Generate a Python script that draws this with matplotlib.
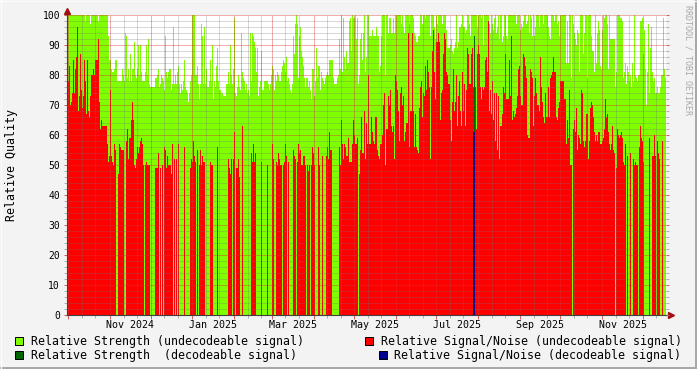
from datetime import datetime, timedelta
import numpy as np
import matplotlib
matplotlib.use("Agg")
import matplotlib.pyplot as plt
import matplotlib.dates as mdates
from matplotlib.patches import Rectangle
from matplotlib.lines import Line2D
from matplotlib.ticker import MultipleLocator, NullFormatter

# one value per consolidated step
start = datetime(2024, 9, 30)
step_hours = 17.8

strength_undec = [
    94, 100, 100, 100, 100, 100, 100, 100, 100, 100,
    100, 100, 100, 100, 100, 100, 100, 100, 98, 100,
    100, 100, 100, 97, 100, 100, 100, 100, 100, 100,
    100, 98, 100, 100, 100, 100, 100, 100, 100, 100,
    100, 93, 85, 85, 82, 81, 81, 82, 85, 85,
    78, 78, 78, 78, 78, 82, 80, 78, 94, 93,
    79, 82, 78, 87, 78, 82, 82, 91, 80, 79,
    82, 90, 80, 90, 81, 78, 78, 78, 81, 90,
    80, 92, 77, 76, 76, 76, 76, 76, 79, 79,
    80, 82, 76, 77, 80, 79, 78, 75, 93, 81,
    79, 81, 82, 82, 75, 77, 96, 77, 80, 77,
    81, 83, 77, 74, 77, 75, 78, 85, 76, 75,
    74, 71, 74, 78, 80, 100, 100, 100, 80, 80,
    83, 77, 72, 77, 97, 93, 77, 96, 77, 82,
    76, 76, 78, 85, 78, 90, 72, 78, 76, 83,
    89, 78, 75, 75, 74, 74, 73, 73, 73, 77,
    77, 81, 77, 90, 80, 77, 82, 99, 74, 73,
    76, 80, 76, 75, 94, 81, 79, 78, 75, 77,
    74, 75, 73, 94, 78, 94, 93, 91, 89, 81,
    89, 73, 76, 78, 88, 75, 75, 78, 78, 78,
    78, 77, 75, 77, 80, 83, 82, 75, 80, 78,
    81, 80, 78, 78, 81, 83, 85, 84, 81, 86,
    78, 79, 77, 75, 74, 77, 93, 87, 97, 100,
    97, 79, 93, 96, 88, 86, 83, 79, 76, 79,
    79, 76, 78, 75, 72, 82, 82, 73, 78, 89,
    79, 83, 83, 75, 81, 79, 78, 77, 79, 80,
    81, 80, 85, 85, 85, 85, 79, 77, 77, 77,
    79, 80, 92, 82, 100, 81, 99, 86, 82, 88,
    84, 84, 98, 99, 88, 100, 99, 99, 100, 92,
    99, 77, 80, 92, 94, 85, 94, 100, 81, 86,
    100, 100, 93, 93, 93, 95, 93, 93, 93, 96,
    93, 93, 81, 83, 93, 100, 100, 100, 80, 100,
    100, 94, 99, 99, 94, 94, 99, 94, 100, 100,
    100, 100, 100, 100, 97, 100, 96, 94, 100, 100,
    100, 100, 97, 100, 100, 100, 99, 94, 93, 91,
    91, 93, 93, 100, 100, 97, 100, 100, 99, 100,
    100, 100, 100, 93, 100, 100, 100, 96, 92, 100,
    97, 100, 100, 100, 100, 97, 100, 100, 100, 95,
    89, 89, 89, 90, 92, 88, 87, 89, 91, 100,
    89, 91, 96, 96, 97, 100, 96, 96, 94, 95,
    100, 100, 97, 93, 100, 100, 100, 100, 100, 100,
    96, 100, 100, 100, 99, 100, 90, 100, 100, 100,
    100, 100, 97, 94, 100, 97, 95, 99, 100, 94,
    96, 100, 92, 100, 100, 91, 93, 100, 100, 93,
    92, 100, 100, 100, 100, 100, 100, 100, 100, 97,
    100, 100, 100, 95, 97, 96, 98, 100, 100, 97,
    98, 100, 94, 100, 99, 93, 100, 93, 96, 100,
    100, 100, 96, 100, 100, 100, 97, 100, 100, 100,
    100, 96, 93, 92, 100, 100, 100, 98, 100, 100,
    97, 98, 93, 100, 100, 100, 100, 100, 100, 84,
    98, 84, 100, 100, 79, 100, 97, 94, 92, 90,
    95, 94, 81, 100, 100, 100, 87, 94, 100, 100,
    79, 100, 100, 100, 93, 88, 88, 81, 100, 84,
    94, 98, 95, 83, 82, 95, 100, 99, 100, 100,
    97, 82, 100, 92, 92, 92, 92, 92, 76, 81,
    100, 100, 100, 99, 99, 98, 79, 81, 84, 77,
    83, 81, 78, 80, 76, 84, 78, 100, 80, 79,
    78, 80, 80, 98, 98, 99, 87, 95, 82, 70,
    81, 97, 74, 89, 96, 81, 78, 79, 74, 74,
    76, 74, 74, 76, 80, 80, 99, 82, 79,
]

snr_undec = [
    78, 78, 83, 70, 71, 74, 85, 74, 82, 86,
    96, 68, 73, 87, 75, 69, 73, 85, 78, 67,
    85, 68, 66, 73, 80, 80, 82, 80, 85, 85,
    85, 92, 71, 62, 65, 63, 63, 63, 63, 63,
    57, 51, 53, 75, 53, 51, 50, 57, 55, 0,
    0, 47, 57, 56, 55, 55, 55, 0, 0, 58,
    62, 52, 59, 59, 65, 71, 65, 50, 49, 52,
    56, 54, 56, 58, 59, 57, 50, 0, 50, 51,
    50, 50, 50, 0, 0, 0, 0, 0, 49, 49,
    49, 54, 0, 49, 0, 50, 0, 56, 55, 49,
    53, 50, 50, 50, 47, 57, 0, 52, 0, 52,
    0, 57, 0, 0, 0, 0, 0, 56, 0, 0,
    0, 0, 0, 49, 52, 51, 58, 53, 51, 0,
    55, 0, 50, 55, 50, 53, 51, 51, 0, 0,
    0, 0, 0, 51, 50, 50, 0, 0, 0, 0,
    56, 0, 0, 0, 0, 0, 0, 0, 0, 0,
    0, 52, 49, 47, 52, 0, 52, 61, 0, 49,
    49, 52, 46, 0, 0, 63, 0, 0, 0, 0,
    0, 0, 0, 0, 54, 51, 57, 51, 54, 0,
    0, 0, 0, 0, 51, 0, 0, 0, 0, 0,
    50, 0, 0, 0, 0, 57, 52, 0, 0, 51,
    50, 54, 52, 50, 50, 0, 50, 51, 57, 53,
    0, 51, 0, 0, 0, 0, 55, 53, 52, 0,
    51, 57, 54, 55, 50, 50, 53, 53, 50, 0,
    50, 48, 50, 0, 50, 56, 54, 50, 0, 0,
    0, 56, 50, 0, 0, 53, 0, 0, 0, 53,
    56, 52, 61, 55, 55, 0, 0, 0, 0, 0,
    0, 0, 56, 50, 65, 57, 52, 57, 56, 53,
    53, 59, 51, 51, 51, 57, 65, 60, 57, 57,
    59, 0, 47, 55, 66, 54, 54, 68, 52, 64,
    57, 80, 57, 57, 66, 61, 58, 57, 66, 66,
    55, 53, 52, 57, 57, 60, 70, 74, 50, 62,
    62, 73, 70, 75, 63, 61, 63, 52, 80, 78,
    75, 68, 58, 74, 76, 70, 73, 58, 61, 64,
    64, 94, 56, 68, 68, 94, 68, 56, 67, 56,
    55, 54, 69, 76, 78, 66, 74, 73, 83, 75,
    85, 81, 76, 52, 76, 88, 95, 81, 72, 91,
    91, 94, 91, 65, 74, 75, 87, 94, 92, 81,
    80, 77, 77, 65, 58, 71, 82, 68, 71, 80,
    63, 73, 78, 68, 63, 81, 68, 77, 63, 75,
    89, 87, 77, 77, 87, 89, 76, 0, 76, 62,
    87, 90, 87, 76, 72, 76, 75, 76, 85, 86,
    81, 98, 68, 75, 67, 78, 65, 74, 58, 74,
    55, 73, 52, 63, 63, 67, 76, 74, 87, 72,
    72, 72, 85, 73, 93, 65, 68, 66, 67, 69,
    73, 82, 83, 73, 70, 70, 87, 86, 83, 79,
    60, 59, 59, 82, 81, 79, 63, 73, 79, 74,
    70, 70, 68, 86, 76, 71, 66, 64, 74, 66,
    66, 76, 66, 79, 80, 81, 86, 81, 81, 66,
    65, 69, 71, 78, 78, 78, 78, 72, 72, 57,
    65, 59, 75, 50, 50, 0, 62, 65, 61, 69,
    55, 60, 59, 57, 75, 74, 58, 56, 58, 67,
    67, 52, 58, 69, 71, 70, 66, 61, 58, 60,
    58, 61, 61, 57, 57, 58, 59, 62, 72, 66,
    67, 61, 57, 55, 57, 63, 55, 54, 0, 49,
    62, 60, 59, 60, 61, 59, 51, 50, 57, 0,
    53, 0, 0, 54, 0, 0, 52, 50, 51, 50,
    50, 0, 56, 63, 59, 58, 51, 0, 0, 0,
    0, 0, 59, 0, 0, 53, 53, 60, 53, 0,
    58, 54, 52, 0, 0, 58, 0, 0, 0,
]

# the only steps with a decodeable signal
dec_steps = [406, 407]
strength_dec = [0, 93]
snr_dec = [61, 61]

label_months = ["2024-11", "2025-01", "2025-03", "2025-05",
                "2025-07", "2025-09", "2025-11"]

legend_labels = ["Relative Strength (undecodeable signal)",
                 "Relative Signal/Noise (undecodeable signal)",
                 "Relative Strength  (decodeable signal)",
                 "Relative Signal/Noise (decodeable signal)"]
colors = ["#80ff00", "#ff0000", "#006600", "#000090"]

MONO = "DejaVu Sans Mono"
plt.rcParams["font.family"] = MONO

W, H = 697, 369
fig = plt.figure(figsize=(W / 100, H / 100), dpi=100, facecolor="#f3f3f3")
ax = fig.add_axes([67 / W, 1 - 315 / H, 599 / W, 300 / H])
ax.set_facecolor("white")

n = len(strength_undec)
edges = mdates.date2num([start + timedelta(hours=step_hours * i)
                         for i in range(n + 1)])
s_dec = np.zeros(n)
s_dec[dec_steps] = strength_dec
n_dec = np.zeros(n)
n_dec[dec_steps] = snr_dec

for vals, col in zip([strength_undec, snr_undec, s_dec, n_dec], colors):
    ax.stairs(vals, edges, fill=True, color=col, antialiased=False,
              baseline=0, zorder=1)

ax.set_xlim(edges[0], edges[-1])
ax.set_ylim(0, 100)

# grid, dotted and drawn over the areas like rrdtool does
ax.set_axisbelow(False)
ax.xaxis.set_major_locator(mdates.MonthLocator())
ax.xaxis.set_minor_locator(mdates.DayLocator(bymonthday=[11, 21]))
ax.xaxis.set_major_formatter(NullFormatter())
ax.yaxis.set_major_locator(MultipleLocator(10))
ax.yaxis.set_minor_locator(MultipleLocator(2))
ax.grid(which="minor", color="#707070", alpha=0.28, ls=(0, (1, 1)),
        lw=0.72, antialiased=False)
ax.grid(which="major", color="#dd3030", alpha=0.4, ls=(0, (1, 1)),
        lw=0.72, antialiased=False)

ax.tick_params(axis="x", which="major", length=3, width=0.72,
               color="#d06060", labelbottom=False)
ax.tick_params(axis="x", which="minor", length=2, width=0.72, color="#b0b0b0")
ax.tick_params(axis="y", which="both", left=True, right=True, length=2,
               width=0.72, color="#b0b0b0", labelsize=7, pad=3)
ax.tick_params(axis="y", which="major", color="#d06060")

for side in ["top", "right"]:
    ax.spines[side].set_visible(False)
for side in ["left", "bottom"]:
    ax.spines[side].set_color("#404040")
    ax.spines[side].set_linewidth(0.8)
    ax.spines[side].set_zorder(3)

# axis arrows
ax.plot([0, 0], [1, 1.02], transform=ax.transAxes, color="#404040",
        lw=0.8, clip_on=False)
ax.plot([0], [1.015], marker="^", ms=5, color="#a01010",
        transform=ax.transAxes, clip_on=False)
ax.plot([1, 1.006], [0, 0], transform=ax.transAxes, color="#404040",
        lw=0.8, clip_on=False)
ax.plot([1.008], [0], marker=">", ms=5, color="#a01010",
        transform=ax.transAxes, clip_on=False)

# month labels centred on the month
for m in label_months:
    d0 = datetime.strptime(m, "%Y-%m")
    d1 = datetime(d0.year + d0.month // 12, d0.month % 12 + 1, 1)
    mid = d0 + (d1 - d0) / 2
    ax.text(mdates.date2num(mid), -0.033, d0.strftime("%b %Y"),
            transform=ax.get_xaxis_transform(), ha="center", va="center",
            fontsize=7.2)

fig.text(12 / W, 1 - 165 / H, "Relative Quality", rotation=90,
         ha="center", va="center", fontsize=8.4)
fig.text(688 / W, 1 - 60 / H, "RRDTOOL / TOBI OETIKER", rotation=270,
         ha="center", va="center", fontsize=6, color="#a8a8a8")

# legend
legend_pos = [(15, 341, 30.7), (365, 341, 380.7), (15, 355, 30.7), (379, 355, 394)]
for (sx, sy, tx), lab, col in zip(legend_pos, legend_labels, colors):
    fig.add_artist(Rectangle((sx / W, 1 - (sy + 4) / H), 8 / W, 8 / H,
                             transform=fig.transFigure, facecolor=col,
                             edgecolor="black", lw=0.72))
    fig.text(tx / W, 1 - sy / H, lab, ha="left", va="center", fontsize=8.35)

# shaded frame
fig.add_artist(Line2D([0, 1], [1 / H, 1 / H], transform=fig.transFigure,
                      color="#a8a8a8", lw=1.44))
fig.add_artist(Line2D([1 - 1 / W, 1 - 1 / W], [0, 1], transform=fig.transFigure,
                      color="#a8a8a8", lw=1.44))
fig.add_artist(Line2D([0, 1], [1 - 0.5 / H, 1 - 0.5 / H], transform=fig.transFigure,
                      color="#fcfcfc", lw=1))
fig.add_artist(Line2D([0.5 / W, 0.5 / W], [0, 1], transform=fig.transFigure,
                      color="#fcfcfc", lw=1))

fig.savefig("out.png", dpi=100, facecolor=fig.get_facecolor())
